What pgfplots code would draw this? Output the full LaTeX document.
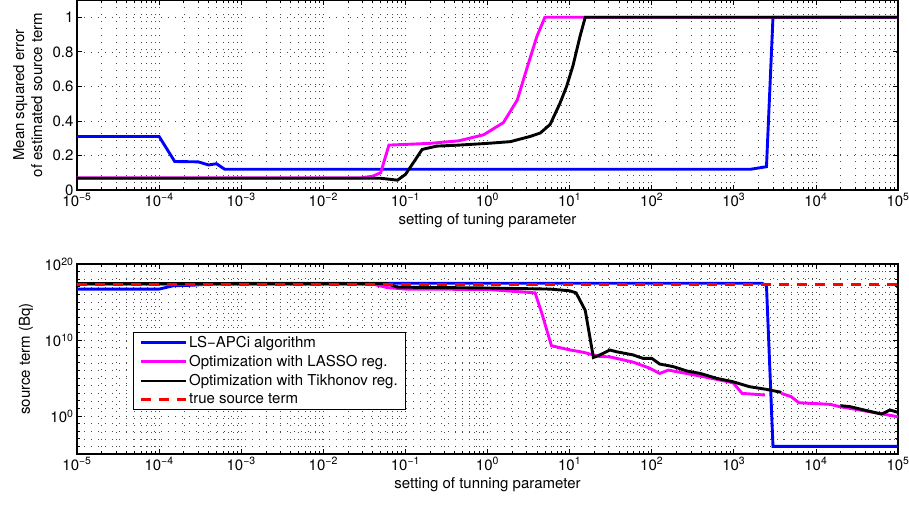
\documentclass[border=0pt]{standalone}
\usepackage{fontspec}
\setmainfont{TeX Gyre Heros}
\usepackage{pgfplots}
\pgfplotsset{compat=1.18}

\definecolor{mblue}{RGB}{0,0,255}
\definecolor{mmag}{RGB}{255,0,255}
\definecolor{mred}{RGB}{255,0,0}

% 10^k tick labels in the text font
\newcommand\logtick{\pgfmathtruncatemacro\e{round(\tick/ln(10))}10\textsuperscript{\ifnum\e<0 −\number-\e\else\e\fi}}

\pgfplotsset{
  mypanel/.style={
    scale only axis, width=821pt, height=190pt,
    xmin=1e-5, xmax=1e5,
    xticklabel={\logtick},
    tick align=inside,
    grid=both,
    major grid style={black!70, line width=0.6pt, dash pattern=on 0.8pt off 6.2pt},
    minor grid style={black!70, line width=0.6pt, dash pattern=on 0.8pt off 6.2pt},
    axis line style={line width=1.1pt},
    every tick/.style={black, line width=0.7pt},
    major tick length=5pt, minor tick length=3pt,
    font=\fontsize{15}{18}\selectfont,
    /pgf/number format/assume math mode=true,
  },
  lw/.style={line width=2.9pt},
}

\begin{document}
\begin{tikzpicture}
\begin{axis}[xmode=log, mypanel,
    at={(0pt,0pt)}, anchor=north west,
    ymin=0, ymax=1.1,
    ytick={0,0.2,0.4,0.6,0.8,1},
    xlabel={setting of tuning parameter},
    ylabel={Mean squared error\\of estimated source term},
    ylabel style={align=center, at={(axis description cs:-0.038,0.5)}, anchor=south},
]
\addplot[mblue, lw] coordinates {
(1e-5,0.31)(1e-4,0.31)(1.55e-4,0.165)(3e-4,0.163)(4e-4,0.145)(5e-4,0.152)(6.3e-4,0.12)
(1.6e3,0.12)(2.5e3,0.135)(3e3,1)(1e5,1)
};
\addplot[mmag, lw] coordinates {
(1e-5,0.07)(0.028,0.07)(0.04,0.08)(0.05,0.10)(0.063,0.26)(0.2,0.27)(0.45,0.285)
(0.9,0.32)(1.56,0.39)(2.3,0.52)(3.0,0.70)(4.0,0.89)(5.0,1)(1e5,1)
};
\addplot[black, lw] coordinates {
(1e-5,0.068)(0.05,0.068)(0.08,0.057)(0.1,0.09)(0.13,0.17)(0.16,0.235)(0.24,0.254)
(0.45,0.26)(1,0.27)(1.9,0.28)(3.3,0.31)(4.4,0.33)(5.8,0.38)(7.6,0.50)(9.2,0.60)
(11,0.72)(13.4,0.89)(15.5,1)(1e5,1)
};
\end{axis}

\begin{axis}[xmode=log, ymode=log, mypanel,
    at={(0pt,-264pt)}, anchor=north west,
    ymin=1e-5, ymax=1e20,
    ytick={1,1e10,1e20},
    yticklabel={\logtick},
    minor ytick={1e-4,1e-3,1e-2,1e-1,1e1,1e2,1e3,1e4,1e5,1e6,1e7,1e8,1e9,
                 1e11,1e12,1e13,1e14,1e15,1e16,1e17,1e18,1e19},
    xlabel={setting of tunning parameter},
    ylabel={source term (Bq)},
    ylabel style={at={(axis description cs:-0.049,0.5)}, anchor=south},
    unbounded coords=jump,
    legend cell align=left,
    legend style={at={(0.068,0.233)}, anchor=south west, draw=black,
        line width=0.8pt, fill=white, font=\fontsize{15}{18}\selectfont,
        row sep=2.5pt, inner xsep=6pt, inner ysep=2pt},
    legend image code/.code={\draw[#1] (0pt,0pt) -- (45pt,0pt);},
]
\addplot[mblue, lw] coordinates {
(1e-5,5e16)(1e-4,5e16)(1.5e-4,1.4e17)(2.5e-4,1.6e17)(5e-4,2.6e17)(1e-3,2.9e17)
(2.2e3,2.9e17)(2.5e3,1.5e17)(3e3,1e-4)(1e5,1e-4)
};
\addlegendentry{LS−APCi algorithm}
\addplot[mmag, lw] coordinates {
(1e-5,2.3e17)(0.04,2.3e17)(0.06,8e16)(0.1,5e16)(1,4.5e16)(3.8,1.6e16)(4.6,3e13)
(6,1.8e9)(10,5e8)(14.5,2.5e8)(23,7e7)(31,6e7)(60,1.2e7)(95,1.9e6)(125,4e5)
(160,1.1e6)(390,1.8e5)(980,2.4e4)(1260,9.5e2)(2400,5.8e2)(2500,nan)
(3800,9.5e2)(5000,3.5e2)(6200,5.6e1)(1.5e4,3.4e1)(1.95e4,1.7e1)(6.6e4,1.8)(1e5,0.8)
};
\addlegendentry{Optimization with LASSO reg.}
\addplot[black, lw] coordinates {
(1e-5,2.6e17)(0.06,2.6e17)(0.08,9e16)(1,7e16)(5.8,5e16)(10,3e16)(12,1.6e16)
(15.5,8e13)(19.5,5e7)(22,8e7)(31,4.8e8)(37,2.9e8)(59,1.1e8)(78,3.9e7)(100,3.9e7)
(125,6.9e6)(182,3.2e6)(270,8.3e5)(390,4e5)(620,9e4)(980,3.2e4)(1550,7.2e3)
(2500,3.2e3)(3800,1.3e3)(5000,nan)
(2e4,23)(2.6e4,17)(4.2e4,5)(6.3e4,1.8)(8e4,6.2)(1e5,3)
};
\addlegendentry{Optimization with Tikhonov reg.\hspace{14pt}}
\addplot[mred, lw, dash pattern=on 10pt off 8pt] coordinates {
(1e-5,1.9e17)(1e5,1.9e17)
};
\addlegendentry{true source term}
\end{axis}
\pgfresetboundingbox
\path[use as bounding box] (-77pt,0pt) rectangle (832pt,-507pt);
\end{tikzpicture}
\end{document}
